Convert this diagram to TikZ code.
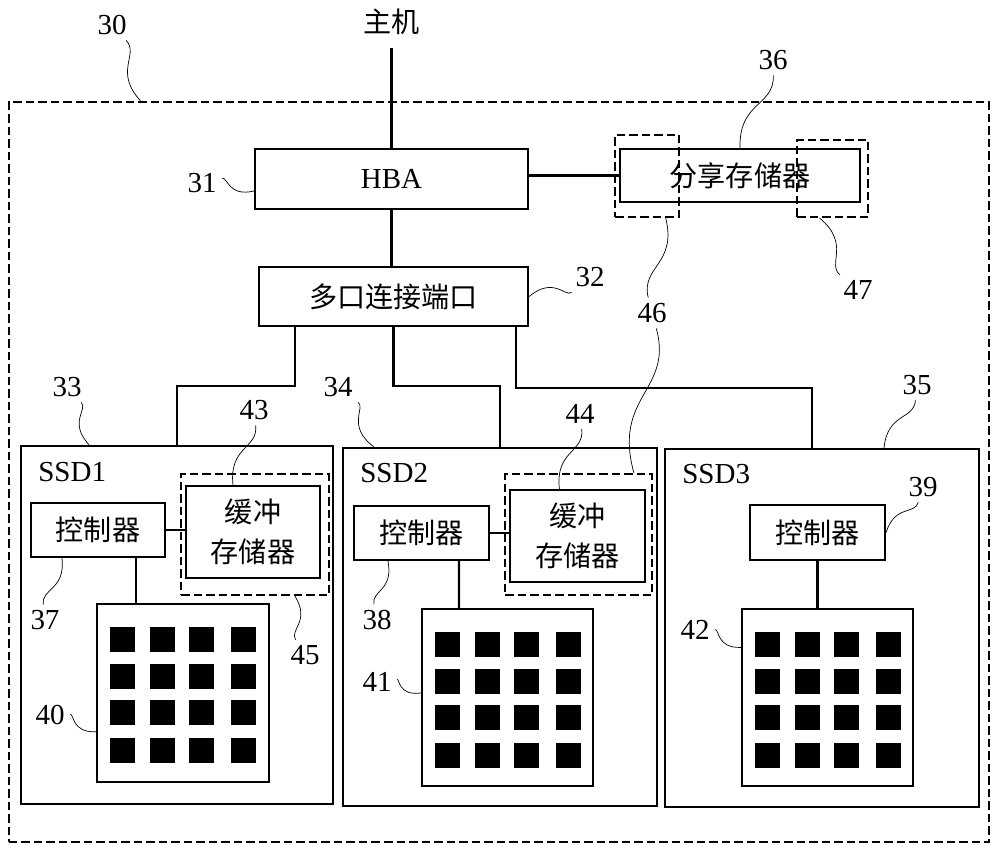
\documentclass[tikz,border=0pt]{standalone}
\usepackage{fontspec}
\setmainfont{Liberation Serif}
\newfontfamily\cjk{Noto Sans CJK SC}
\usepackage{tikz}
\usetikzlibrary{calc}

\begin{document}
\begin{tikzpicture}
    [
      x=0.2mm, y=-0.2mm,
      box/.style={draw, line width=1.3pt, inner sep=0pt, font=\fontsize{16.5}{20}\selectfont},
      dbox/.style={draw, line width=1.2pt, dash pattern=on 1.7mm off 0.8mm, inner sep=0pt},
      cn/.style={font=\cjk\fontsize{16}{23}\selectfont},
      num/.style={font=\fontsize{16.5}{20}\selectfont, inner sep=3pt},
      wire/.style={draw, line width=1.3pt},
      lead/.style={draw, line width=1pt, to path={.. controls ($(\tikztostart)!0.5!#1:(\tikztotarget)$) and ($(\tikztotarget)!0.5!#1:(\tikztostart)$) .. (\tikztotarget)}},
      lead/.default=22
    ]
    \useasboundingbox (0,0) rectangle (1000,853);
    \node (sys) [dbox, minimum width=196mm, minimum height=148mm] at (499,472) {};
    \node (host) [num, cn] at (391.5,22) {主机};
    \node (hba) [box, minimum width=54.6mm, minimum height=12mm] at (391.5,179) {HBA};
    \node (shm) [box, cn, minimum width=48mm, minimum height=10.6mm] at (740,175.5) {分享存储器};
    \node (d46) [dbox, minimum width=12.8mm, minimum height=16.4mm] at (647,176) {};
    \node (d47) [dbox, minimum width=14.2mm, minimum height=15.4mm] at (832.5,178.5) {};
    \node (port) [box, cn, minimum width=53.8mm, minimum height=11.8mm] at (393.5,296.5) {多口连接端口};
    \node (ssd1) [box, minimum width=62.4mm, minimum height=71.6mm] at (177,625) {};
    \node (ssd2) [box, minimum width=62.8mm, minimum height=71.6mm] at (500,627) {};
    \node (ssd3) [box, minimum width=62.8mm, minimum height=71.6mm] at (822,628) {};
    \node (ssd1-t) [num, anchor=west, inner sep=0pt] at (38,472) {SSD1};
    \node (ssd2-t) [num, anchor=west, inner sep=0pt] at (360,473) {SSD2};
    \node (ssd3-t) [num, anchor=west, inner sep=0pt] at (682,474) {SSD3};
    \node (ctl1) [box, cn, minimum width=26.8mm, minimum height=10.8mm] at (98,530) {控制器};
    \node (buf1) [box, cn, align=center, minimum width=26.8mm, minimum height=18.4mm] at (253,532) {缓冲\\存储器};
    \node (d45) [dbox, minimum width=29.6mm, minimum height=24.2mm] at (255,534.5) {};
    \node (arr1) [box, minimum width=34.4mm, minimum height=35.6mm] at (183,693) {};
    \node (ctl2) [box, cn, minimum width=27mm, minimum height=10.8mm] at (421.5,533) {控制器};
    \node (buf2) [box, cn, align=center, minimum width=27mm, minimum height=18.4mm] at (577.5,536) {缓冲\\存储器};
    \node (d44) [dbox, minimum width=29.4mm, minimum height=24.2mm] at (578.5,534.5) {};
    \node (arr2) [box, minimum width=34.2mm, minimum height=35.4mm] at (507.5,697.5) {};
    \node (ctl3) [box, cn, minimum width=27mm, minimum height=11mm] at (817.5,532.5) {控制器};
    \node (arr3) [box, minimum width=34.2mm, minimum height=35.4mm] at (827.5,697.5) {};

    \foreach \g in {arr1,arr2,arr3}
      \foreach \dx in {14,54,93,135}
        \foreach \dy in {24,61,97,135}
          \fill ($(\g.north west)+(\dx,\dy)$) rectangle +(25,25);

    \draw [wire, shorten <=1.5mm] (host) -- (hba);
    \draw [wire] (hba.east |- shm) -- (shm);
    \draw [wire] (hba.south) -- (hba.south |- port.north);
    \draw [wire] ($(port.south west)+(37,0)$) -- ++(0,59) -| (ssd1.north);
    \draw [wire] (port.south) -- ++(0,59) -| (ssd2.north);
    \draw [wire] ($(port.south east)+(-13,0)$) -- ++(0,61) -| ($(ssd3.north)+(-10,0)$);
    \draw [wire] (ctl1.east) -- (ctl1.east -| buf1.west);
    \draw [wire] ($(ctl1.south)+(38,0)$) -- ($(arr1.north)+(-47,0)$);
    \draw [wire] (ctl2.east) -- (ctl2.east -| buf2.west);
    \draw [wire] ($(ctl2.south)+(37.5,0)$) -- ($(arr2.north)+(-48.5,0)$);
    \draw [wire] (ctl3.south) -- (ctl3.south |- arr3.north);

    \node (n30) [num] at (112,25) {30};
    \node (n31) [num] at (202,183) {31};
    \node (n32) [num] at (590,277) {32};
    \node (n33) [num] at (67,387) {33};
    \node (n34) [num] at (338,387) {34};
    \node (n35) [num] at (917,385) {35};
    \node (n36) [num] at (773,60) {36};
    \node (n37) [num] at (45,620) {37};
    \node (n38) [num] at (377,620) {38};
    \node (n39) [num] at (923,487) {39};
    \node (n40) [num] at (50,715) {40};
    \node (n41) [num] at (377,682) {41};
    \node (n42) [num] at (695,630) {42};
    \node (n43) [num] at (254,410) {43};
    \node (n44) [num] at (580,414) {44};
    \node (n45) [num] at (305,655) {45};
    \node (n46) [num] at (652,313) {46};
    \node (n47) [num] at (858,290) {47};

    \draw (n30) to[lead] (sys.134);
    \draw (n31) to[lead] (hba.185);
    \draw (n32) to[lead] (port.east);
    \draw (n33) to[lead] (ssd1.116);
    \draw (n34) to[lead] (ssd2.125);
    \draw (n35) to[lead] (ssd3.71);
    \draw (n36) to[lead] (shm.north);
    \draw (n37) to[lead] (ctl1.218);
    \draw (n38) to[lead] (ctl2.220);
    \draw (n39) to[lead] (ctl3.east);
    \draw (n40) to[lead] (arr1.204);
    \draw (n41) to[lead] (arr2.177);
    \draw (n42) to[lead] (arr3.150);
    \draw (n43) to[lead] (buf1.113);
    \draw (n44) to[lead] (buf2.111);
    \draw (n45) to[lead] (d45.-57);
    \draw (n46) to[lead] (d46.-66);
    \draw (n46) to[lead] (d44.48);
    \draw (n47) to[lead] (d47.-108);
  \end{tikzpicture}
\end{document}
